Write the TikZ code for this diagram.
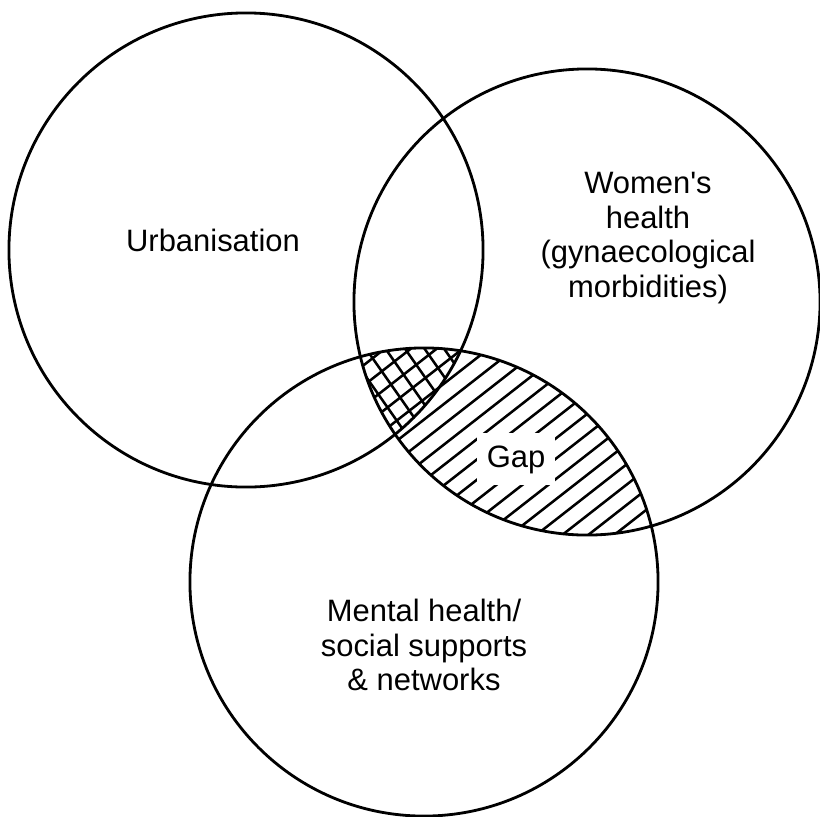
\documentclass[tikz,border=0pt]{standalone}
\usepackage{fontspec}
\setmainfont{Liberation Sans}
\begin{document}
\begin{tikzpicture}[x=0.025cm,y=-0.025cm,
  ring/.style={circle,draw,line width=2pt,inner sep=0pt,minimum size=#1},
  hatch/.style={line width=1.8pt},
  lbl/.style={font=\fontsize{22}{24.5}\selectfont,align=center,inner sep=0pt}]
  \useasboundingbox (0,0) rectangle (820,816);

  \node[ring=11.85cm] (urban) at (246,250) {};
  \node[ring=11.65cm] (women) at (587,302) {};
  \node[ring=11.7cm] (mental) at (424,582) {};

  \begin{scope}
    \clip (women.center) circle (233);
    \clip (mental.center) circle (234);
    \begin{scope}[shift={(515,450)},rotate=38]
      \foreach \k in {-18,...,18}
        \draw[hatch] (-300,\k*16) -- (300,\k*16);
    \end{scope}
    \clip (urban.center) circle (237);
    \begin{scope}[shift={(515,450)},rotate=-55]
      \foreach \k in {-20,...,20}
        \draw[hatch] (-300,\k*16) -- (300,\k*16);
    \end{scope}
  \end{scope}

  \node[lbl,anchor=base] (urbtext) at (213,251) {Urbanisation};
  \node[lbl] (womtext) at (648,238) {Women\textquotesingle s\\health\\(gynaecological\\morbidities)};
  \node[lbl] (mentext) at (424,645) {Mental health/\\social supports\\\& networks};
  \node[lbl,anchor=base,fill=white,inner xsep=0.25cm,inner ysep=0.3cm] (gaptext) at (516,467) {Gap};
\end{tikzpicture}
\end{document}
